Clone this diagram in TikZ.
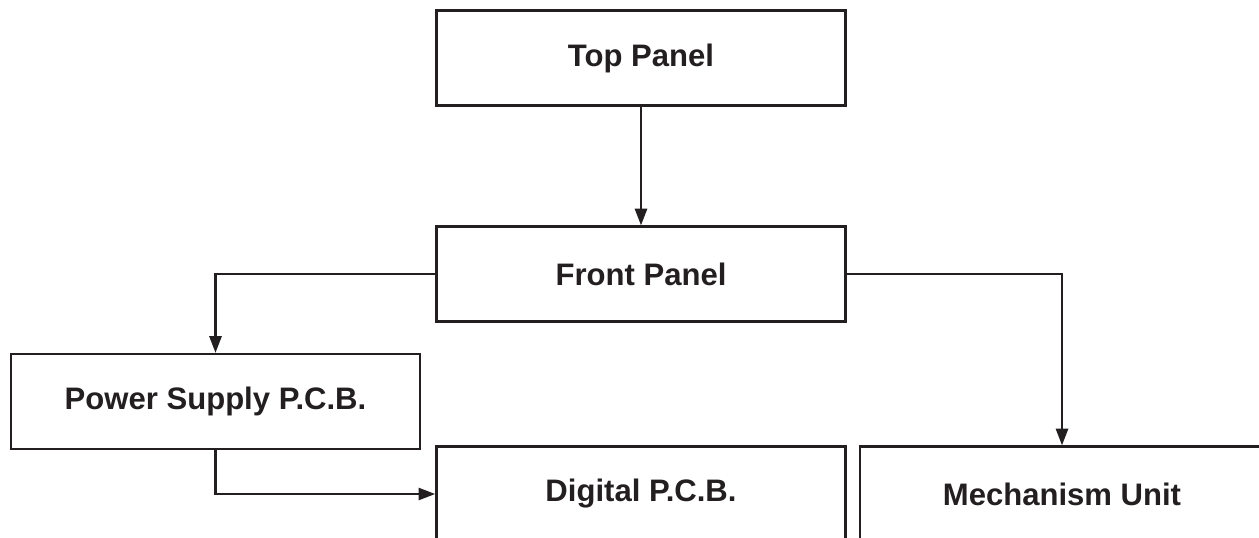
\documentclass[tikz,border=0pt]{standalone}
\usepackage{fontspec}
\setmainfont{Liberation Sans}
\usepackage{tikz}
\usetikzlibrary{arrows.meta}
\definecolor{inkgrey}{HTML}{231F20}
\tikzstyle{block} = [draw=inkgrey, line width=1.9pt, rectangle, minimum width=306.75pt, minimum height=71pt, inner sep=0pt, text=inkgrey, font=\bfseries\fontsize{23.3}{28}\selectfont]
\tikzstyle{link} = [draw=inkgrey, line width=1.9pt, -{Triangle[length=12.5pt, width=9pt]}]

\begin{document}
\begin{tikzpicture}[x=0.75pt, y=-0.75pt]
    \useasboundingbox (0,0) rectangle (1259,537);
    \node[block] (top) at (641,58) {Top Panel};
    \node[block] (front) at (641,274) {Front Panel};
    \node[block] (psu) at (215.5,401.5) {Power Supply P.C.B.};
    \node[block] (digital) at (641,494) {Digital P.C.B.};
    \node[block, minimum width=303pt] (mech) at (1062,494) {Mechanism Unit};
    \draw[link] (top) -- (front);
    \draw[link] (front.west) -| (psu.north);
    \draw[link] (front.east) -| (mech.north);
    \draw[link] (psu.south) |- (digital.west);
\end{tikzpicture}
\end{document}
